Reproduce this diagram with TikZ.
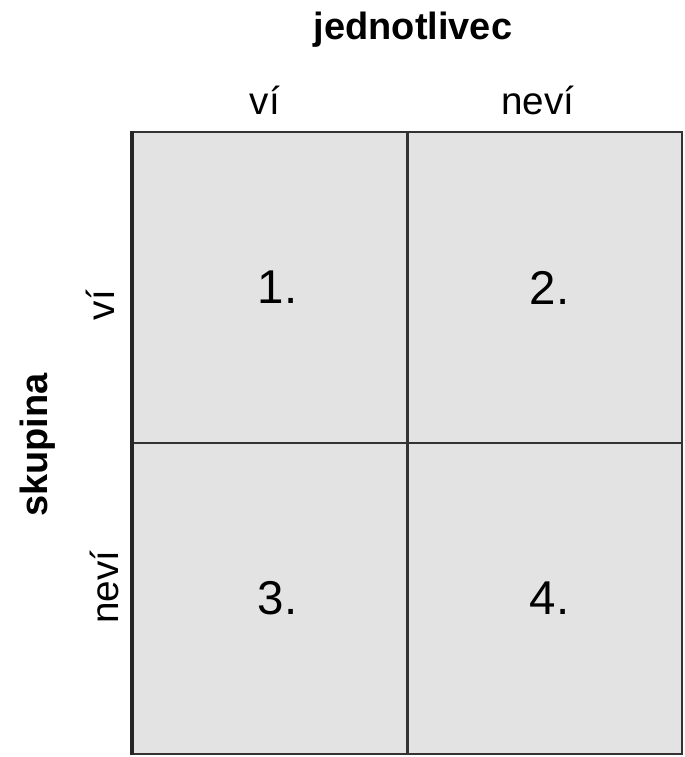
\documentclass[tikz,border=0pt]{standalone}
\usepackage{fontspec}
\setmainfont{Liberation Sans}
\begin{document}
\begin{tikzpicture}[
  cell/.style={draw=black!80, fill=black!11, line width=0.7pt, minimum width=2.745cm,
    minimum height=3.11cm, inner sep=0pt, font=\fontsize{13.5}{15}\selectfont},
  lbl/.style={font=\fontsize{11}{13}\selectfont},
  head/.style={font=\bfseries\fontsize{10.8}{13}\selectfont}]
  \useasboundingbox (0,0) rectangle (6.84,7.57);

  % Four cells of the table
  \node[cell] (c1) at (2.7025, 4.695) {\hspace{0.15cm}1.};
  \node[cell] (c2) at (5.4475, 4.695) {\hspace{0.1cm}2.};
  \node[cell] (c3) at (2.7025, 1.585) {\hspace{0.15cm}3.};
  \node[cell] (c4) at (5.4475, 1.585) {\hspace{0.1cm}4.};
  \draw[line width=1.1pt, black!85] (c1.north west) -- (c3.south west);

  % Column headings
  \node[head] (jed) at (4.13, 7.27) {jednotlivec};
  \node[lbl] (colvi) at (2.65, 6.57) {ví};
  \node[lbl] (colnevi) at (5.38, 6.57) {neví};

  % Row headings
  \node[head, rotate=90] (sku) at (0.38, 3.12) {skupina};
  \node[lbl, rotate=90] (rowvi) at (1.00, 4.52) {ví};
  \node[lbl, rotate=90] (rownevi) at (1.04, 1.70) {neví};
\end{tikzpicture}
\end{document}
